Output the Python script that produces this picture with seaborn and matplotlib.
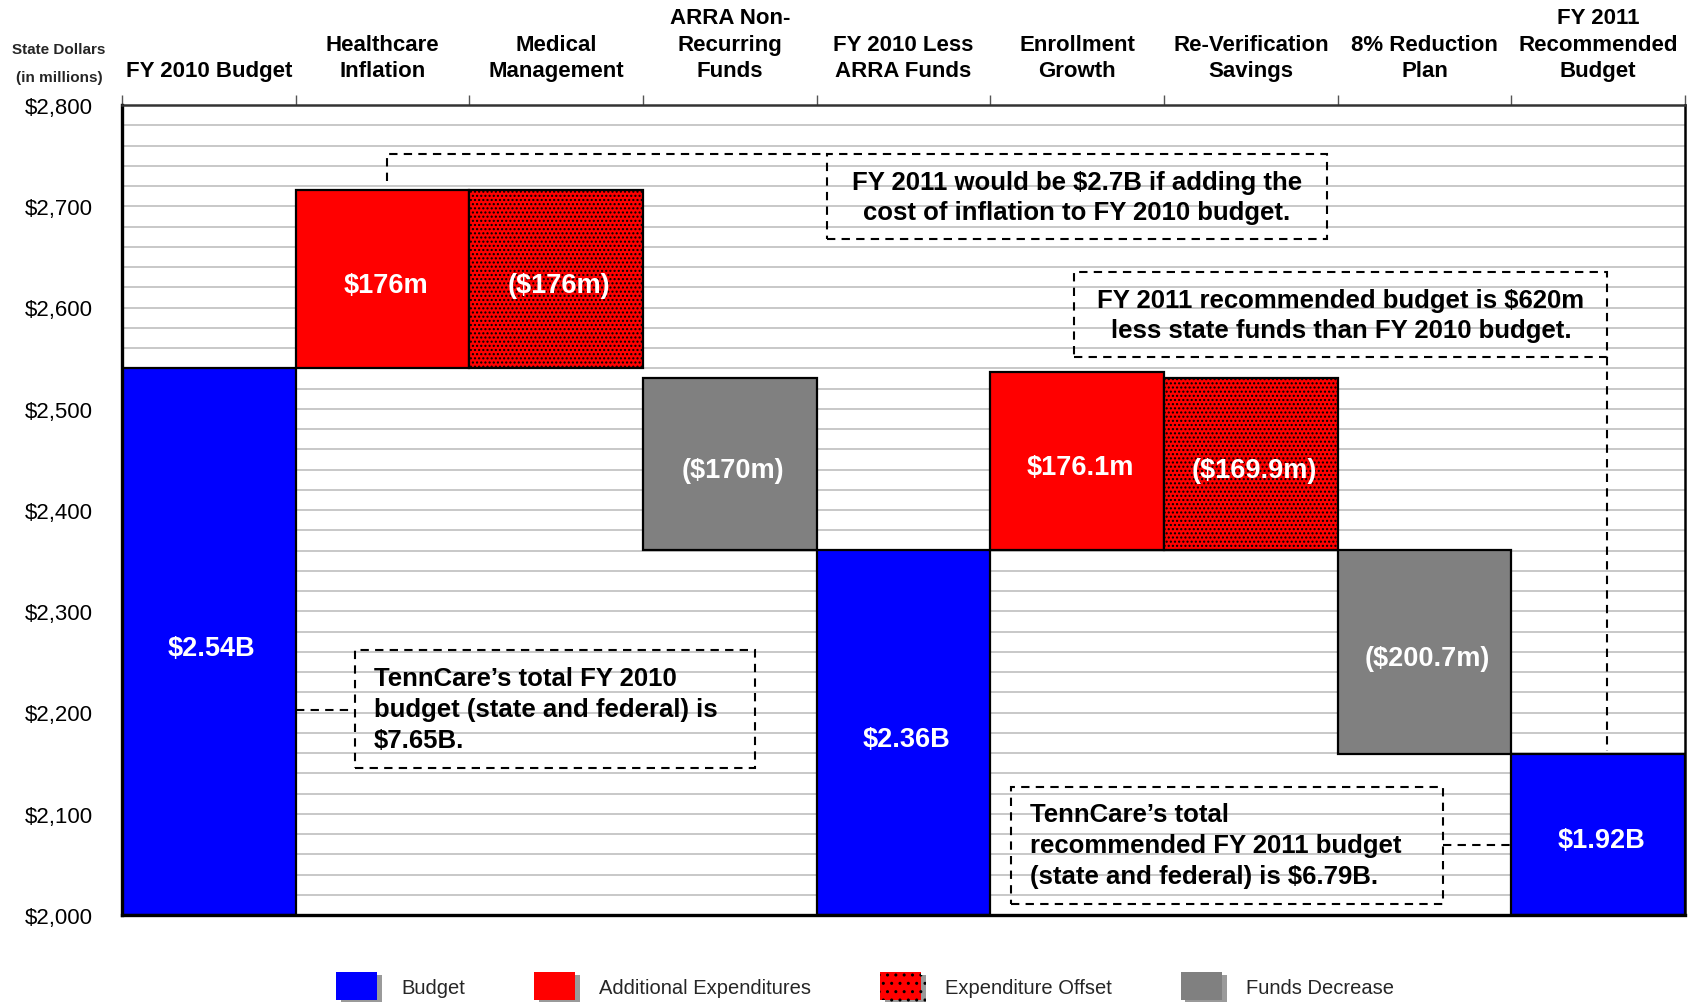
import numpy as np
import pandas as pd
import seaborn as sns
import matplotlib
matplotlib.use("Agg")
import matplotlib.pyplot as plt
from matplotlib.patches import Patch, Rectangle
from matplotlib.lines import Line2D
from matplotlib.ticker import MultipleLocator, FixedLocator, FuncFormatter
from matplotlib.font_manager import FontProperties
import matplotlib.patheffects as pe
import matplotlib.transforms as mtransforms

# ---------------- data ----------------
categories = ["FY 2010 Budget", "Healthcare\nInflation", "Medical\nManagement",
              "ARRA Non-\nRecurring\nFunds", "FY 2010 Less\nARRA Funds",
              "Enrollment\nGrowth", "Re-Verification\nSavings",
              "8% Reduction\nPlan", "FY 2011\nRecommended\nBudget"]
bar_bottom = [2000, 2540, 2540, 2360, 2000, 2360, 2360, 2159.3, 2000]
bar_height = [540, 176, 176, 170, 360, 176.1, 169.9, 200.7, 159.3]
bar_kind = ["Budget", "Additional Expenditures", "Expenditure Offset",
            "Funds Decrease", "Budget", "Additional Expenditures",
            "Expenditure Offset", "Funds Decrease", "Budget"]
bar_labels = ["$2.54B", "$176m", "($176m)", "($170m)", "$2.36B",
              "$176.1m", "($169.9m)", "($200.7m)", "$1.92B"]
legend_kinds = ["Budget", "Additional Expenditures", "Expenditure Offset", "Funds Decrease"]
y_ticks = [2000, 2100, 2200, 2300, 2400, 2500, 2600, 2700, 2800]

kind_color = {"Budget": "#0000FF", "Additional Expenditures": "#FF0000",
              "Expenditure Offset": "#FF0000", "Funds Decrease": "#808080"}
kind_hatch = {"Budget": None, "Additional Expenditures": None,
              "Expenditure Offset": "....", "Funds Decrease": None}

# ---------------- style ----------------
sns.set_theme(style="white")
plt.rcParams['font.family'] = ['Liberation Sans', 'DejaVu Sans']
plt.rcParams['hatch.linewidth'] = 1.0
plt.rcParams['hatch.color'] = 'black'

W, H = 1696, 1003
fig = plt.figure(figsize=(W / 100, H / 100), dpi=100)
ax = fig.add_axes([122 / W, 1 - 916 / H, (1685 - 122) / W, (916 - 106) / H])

def fx(x):
    return x / W

def fy(y):
    return 1 - y / H

df = pd.DataFrame({"category": categories, "height": bar_height})
sns.barplot(data=df, x="category", y="height", order=categories, width=1.0,
            bottom=bar_bottom, color="#0000FF", saturation=1, errorbar=None,
            edgecolor="black", linewidth=1.6, ax=ax, zorder=3)

for i, p in enumerate(ax.patches):
    k = bar_kind[i]
    p.set_facecolor(kind_color[k])
    p.set_edgecolor("black")
    if kind_hatch[k]:
        p.set_hatch(kind_hatch[k])

lab_shift = mtransforms.offset_copy(ax.transData, fig=fig, x=3, y=-6, units="dots")
for i, lab in enumerate(bar_labels):
    ax.text(i, bar_bottom[i] + bar_height[i] / 2, lab, ha="center", va="center",
            color="white", fontsize=19.5, fontweight="bold", zorder=5,
            transform=lab_shift)

# axes
ax.set_xlim(-0.5, len(categories) - 0.5)
ax.set_ylim(2000, 2800)
ax.set_xlabel("")
ax.set_ylabel("")
ax.set_yticks(y_ticks)
ax.yaxis.set_major_formatter(FuncFormatter(lambda v, _: f"${v:,.0f}"))
ax.yaxis.set_minor_locator(MultipleLocator(20))
ax.tick_params(axis="y", which="both", length=0, pad=21, labelsize=16, labelcolor="black")
ax.grid(axis="y", which="both", color="#c8c8c8", linewidth=1.4, zorder=0)
ax.grid(axis="x", visible=False)
ax.set_axisbelow(True)

ax.xaxis.tick_top()
ax.xaxis.set_label_position("top")
ax.tick_params(axis="x", which="major", length=0, pad=17, labelsize=16,
               labelcolor="black", top=True, bottom=False)
ax.xaxis.set_minor_locator(FixedLocator(np.arange(-0.5, len(categories), 1.0)))
ax.tick_params(axis="x", which="minor", length=7, width=1, color="#555555",
               direction="out", top=True, bottom=False)
for lab in ax.get_xticklabels():
    lab.set_fontweight("bold")
    lab.set_linespacing(1.36)

for side, lw in [("left", 2.4), ("bottom", 2.4), ("top", 1.8), ("right", 1.8)]:
    ax.spines[side].set_visible(True)
    ax.spines[side].set_color("black" if side != "top" else "#333333")
    ax.spines[side].set_linewidth(lw)
    ax.spines[side].set_zorder(6)

fig.text(fx(59), fy(50), "State Dollars", ha="center", va="center",
         fontsize=11, fontweight="bold")
fig.text(fx(59), fy(78), "(in millions)", ha="center", va="center",
         fontsize=11, fontweight="bold")

# ---------------- annotation boxes ----------------
dash = (0, (4, 3))

def dline(xs, ys):
    fig.add_artist(Line2D([fx(x) for x in xs], [fy(y) for y in ys],
                          transform=fig.transFigure, color="black",
                          linewidth=1.5, linestyle=dash, zorder=7))

def dbox(x0, y0, x1, y1):
    fig.add_artist(Rectangle((fx(x0), fy(y1)), fx(x1) - fx(x0), fy(y0) - fy(y1),
                             transform=fig.transFigure, fill=False,
                             edgecolor="black", linewidth=1.5, linestyle=dash, zorder=7))

box_font = dict(fontsize=18.5, fontweight="bold", color="black", linespacing=1.36, zorder=8)

dbox(827, 155, 1327, 240)
dline([387, 387, 827], [182, 155, 155])
fig.text(fx(1077), fy(198), "FY 2011 would be $2.7B if adding the\ncost of inflation to FY 2010 budget.",
         ha="center", va="center", **box_font)

dbox(1074, 273, 1607, 358)
dline([1607, 1607], [358, 752])
fig.text(fx(1341), fy(316), "FY 2011 recommended budget is $620m\nless state funds than FY 2010 budget.",
         ha="center", va="center", **box_font)

dbox(355, 651, 755, 769)
dline([296, 355], [711, 711])
fig.text(fx(374), fy(710), "TennCare\u2019s total FY 2010\nbudget (state and federal) is\n$7.65B.",
         ha="left", va="center", **box_font)

dbox(1011, 788, 1443, 905)
dline([1443, 1511], [846, 846])
fig.text(fx(1030), fy(846), "TennCare\u2019s total\nrecommended FY 2011 budget\n(state and federal) is $6.79B.",
         ha="left", va="center", **box_font)

# ---------------- legend ----------------
shadow = [pe.withSimplePatchShadow(offset=(3.5, -2), shadow_rgbFace="#9a9a9a", alpha=1.0), pe.Normal()]
handles = []
for k in legend_kinds:
    handles.append(Patch(facecolor=kind_color[k], edgecolor="black" if kind_hatch[k] else kind_color[k],
                         linewidth=0.0, hatch=("..") if kind_hatch[k] else None,
                         label=k, path_effects=shadow))
leg = fig.legend(handles=handles, loc="center left", bbox_to_anchor=(fx(326), fy(987)),
                 ncol=4, frameon=False, borderpad=0, handlelength=2.05, handleheight=1.75,
                 handletextpad=1.2, columnspacing=3.4,
                 prop=FontProperties(family=["Liberation Sans Narrow", "Liberation Sans"], size=14.5))

fig.savefig("out.png", dpi=100)
